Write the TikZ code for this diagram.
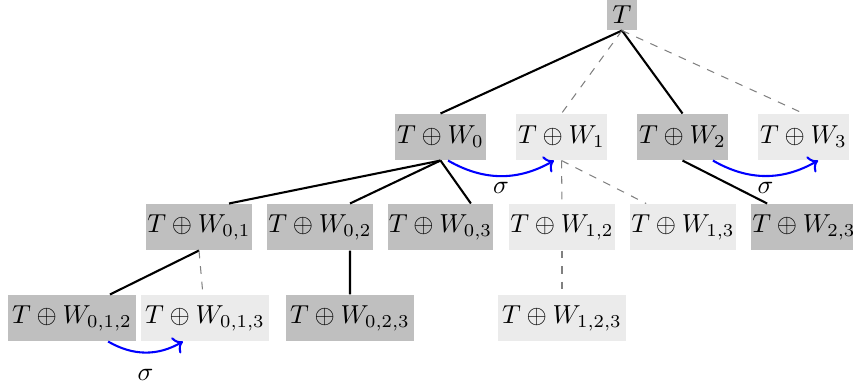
\documentclass[tikz,border=0pt]{standalone}
\usetikzlibrary{arrows.meta}
\begin{document}
\begin{tikzpicture}[x=0.385pt,y=0.385pt,
  box/.style={inner sep=0pt, minimum height=17.71pt},
  dark/.style={box, fill=black!25},
  light/.style={box, fill=black!8},
  rowa/.style={minimum width=35.0pt},
  rowb/.style={minimum width=40.8pt},
  rowc/.style={minimum width=49.3pt},
  sol/.style={black, thick},
  dsh/.style={gray, dashed},
  sig/.style={->, blue, thick, bend right=30},
  siglab/.style={inner sep=0pt, text=black}
]
\useasboundingbox (0,0) rectangle (853,-387);
% nodes
\node[fill=black!25, inner sep=0pt, minimum width=11.9pt, minimum height=11.55pt] (T) at (622,-15) {$T$};
\node[dark, rowa]  (W0) at (440.5,-137) {$T\oplus W_0$};
\node[light, rowa] (W1) at (561.5,-137) {$T\oplus W_1$};
\node[dark, rowa]  (W2) at (682.5,-137) {$T\oplus W_2$};
\node[light, rowa] (W3) at (803.5,-137) {$T\oplus W_3$};
\node[dark, rowb]  (W01) at (199,-227) {$T\oplus W_{0,1}$};
\node[dark, rowb]  (W02) at (320,-227) {$T\oplus W_{0,2}$};
\node[dark, rowb]  (W03) at (440.5,-227) {$T\oplus W_{0,3}$};
\node[light, rowb] (W12) at (562,-227) {$T\oplus W_{1,2}$};
\node[light, rowb] (W13) at (683,-227) {$T\oplus W_{1,3}$};
\node[dark, rowb]  (W23) at (804,-227) {$T\oplus W_{2,3}$};
\node[dark, rowc]  (W012) at (72,-318) {$T\oplus W_{0,1,2}$};
\node[light, rowc] (W013) at (205,-318) {$T\oplus W_{0,1,3}$};
\node[dark, rowc]  (W023) at (350,-318) {$T\oplus W_{0,2,3}$};
\node[light, rowc] (W123) at (562,-318) {$T\oplus W_{1,2,3}$};
% edges
\draw[sol] (T.south) -- (W0.north);
\draw[dsh] (T.south) -- (W1.north);
\draw[sol] (T.south) -- (W2.north);
\draw[dsh] (T.south) -- (W3.north);
\draw[sol] (W0.south) -- ([xshift=11.55pt]W01.north);
\draw[sol] (W0.south) -- ([xshift=11.55pt]W02.north);
\draw[sol] (W0.south) -- ([xshift=11.7pt]W03.north);
\draw[dsh] (W1.south) -- (W12.north);
\draw[dsh] (W1.south) -- ([xshift=-14.2pt]W13.north);
\draw[sol] (W2.south) -- ([xshift=-14.2pt]W23.north);
\draw[sol] (W01.south) -- ([xshift=14.6pt]W012.north);
\draw[dsh] (W01.south) -- ([xshift=-0.8pt]W013.north);
\draw[sol] ([xshift=11.55pt]W02.south) -- (W023.north);
\draw[dsh] (W12.south) -- (W123.north);
% sigma arrows
\draw[sig] ([xshift=2.9pt]W0.south) to node[siglab, below=1.9pt] (s1) {$\sigma$} ([xshift=-2.9pt]W1.south);
\draw[sig] ([xshift=11.7pt]W2.south) to node[siglab, below=1.9pt] (s2) {$\sigma$} ([xshift=5.6pt]W3.south);
\draw[sig] ([xshift=13.9pt]W012.south) to node[siglab, below=6.2pt] (s3) {$\sigma$} ([xshift=-8.5pt]W013.south);
\end{tikzpicture}
\end{document}
